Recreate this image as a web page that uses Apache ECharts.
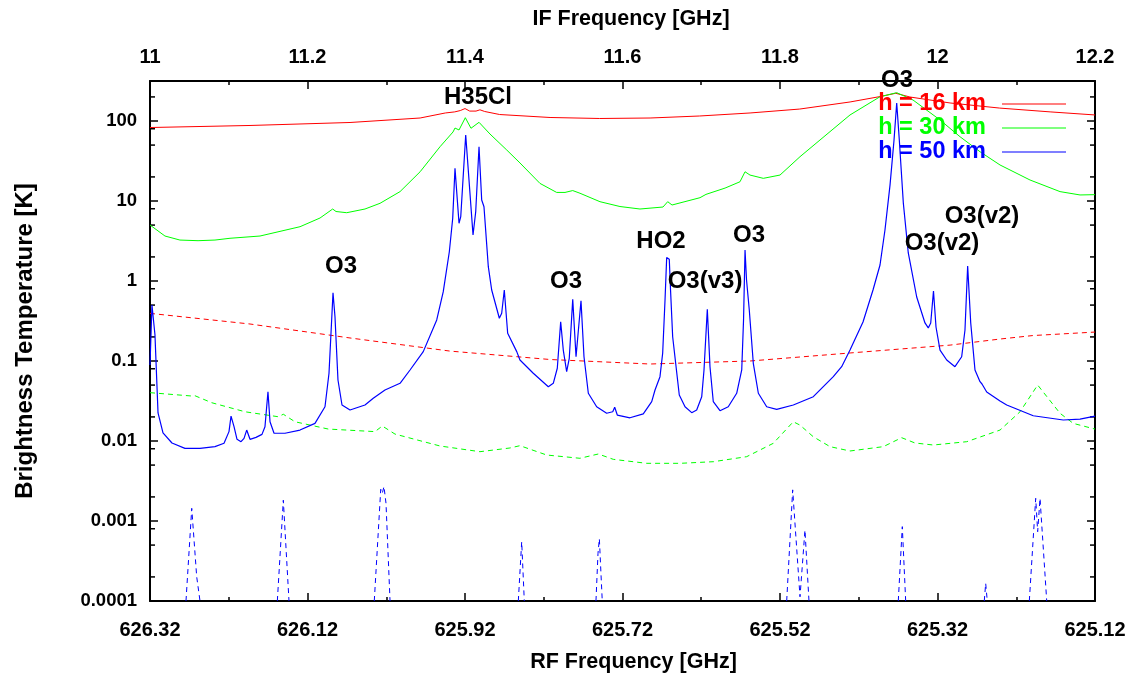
<!DOCTYPE html>
<html>
<head>
<meta charset="utf-8">
<title>Brightness Temperature vs Frequency</title>
<script src="https://cdn.jsdelivr.net/npm/echarts@6/dist/echarts.min.js"></script>
<style>
  html, body { margin: 0; padding: 0; background: #fff; }
  #chart { width: 1134px; height: 674px; }
</style>
</head>
<body>
<div id="chart"></div>
<script>
// Frequencies are IF in GHz; RF = 637.32 - IF. Temperatures in K.
const LO_SUM = 637.32;

// h = 16 km, solid
const h16Solid = [
  [11.000, 82.9], [11.127, 87.9], [11.254, 95.8], [11.343, 109], [11.375, 126],
  [11.387, 130], [11.394, 135], [11.400, 143], [11.406, 133], [11.414, 133],
  [11.419, 138], [11.425, 131.5], [11.444, 120.5], [11.508, 110.6], [11.571, 107.5],
  [11.635, 109], [11.698, 115.5], [11.762, 126], [11.825, 141], [11.889, 173],
  [11.927, 202], [11.947, 222], [11.965, 199.5], [12.016, 168], [12.079, 145],
  [12.143, 130], [12.200, 119]
];

// h = 30 km, solid
const h30Solid = [
  [11.000, 5.01], [11.0025, 4.73], [11.019, 3.65], [11.038, 3.25], [11.061, 3.19],
  [11.0825, 3.25], [11.1016, 3.42], [11.1041, 3.52], [11.1397, 3.65], [11.1905, 4.77],
  [11.2159, 6.13], [11.232, 7.94], [11.2362, 7.39], [11.2498, 7.14], [11.273, 7.94],
  [11.2921, 9.36], [11.3175, 13.1], [11.343, 23.2], [11.3683, 47.7], [11.3848, 72.9],
  [11.3873, 81.7], [11.3924, 77.2], [11.4004, 110], [11.4076, 81.1], [11.4178, 96.3],
  [11.4317, 68.8], [11.453, 43.4], [11.4698, 29.9], [11.4952, 16.6], [11.5164, 12.8],
  [11.527, 12.8], [11.5368, 13.5], [11.546, 12.5], [11.5714, 9.8], [11.5968, 8.53],
  [11.6222, 7.94], [11.6514, 8.41], [11.6574, 9.8], [11.6629, 8.91], [11.6984, 11.0],
  [11.706, 12.1], [11.7302, 14.5], [11.7492, 17.4], [11.7556, 23.2], [11.7619, 21.1],
  [11.7788, 19.2], [11.800, 21.1], [11.8254, 35.8], [11.8508, 57.9], [11.8889, 119],
  [11.927, 201], [11.9482, 226], [11.9689, 183], [12.0032, 103], [12.0286, 63.6],
  [12.054, 41.3], [12.0794, 28.2], [12.1175, 18.3], [12.1556, 13.1], [12.181, 11.9],
  [12.200, 12.0]
];

// h = 50 km, solid
const h50Solid = [
  [11.0000, 0.0891], [11.0025, 0.501], [11.0063, 0.213], [11.0102, 0.0224], [11.0165, 0.0126],
  [11.0279, 0.00944], [11.0444, 0.0081], [11.0635, 0.0081], [11.0825, 0.0085], [11.0940, 0.00936],
  [11.1003, 0.0131], [11.1029, 0.0205], [11.1067, 0.0151], [11.1105, 0.0105], [11.1156, 0.0098],
  [11.1194, 0.0108], [11.1228, 0.0137], [11.1270, 0.0105], [11.1346, 0.0111], [11.1422, 0.0121],
  [11.1460, 0.0151], [11.1498, 0.0413], [11.1524, 0.0174], [11.1575, 0.0125], [11.1714, 0.0125],
  [11.1905, 0.0137], [11.2095, 0.0166], [11.2222, 0.0268], [11.2273, 0.0702], [11.2311, 0.395],
  [11.2324, 0.714], [11.2349, 0.358], [11.2387, 0.0579], [11.2438, 0.0282], [11.2540, 0.0244],
  [11.2730, 0.0282], [11.2835, 0.0342], [11.2984, 0.0434], [11.3175, 0.0526], [11.3302, 0.0772],
  [11.3470, 0.131], [11.3641, 0.326],
  [11.3724, 0.735], [11.3801, 2.32], [11.3844, 6.08], [11.3873, 25.6], [11.3924, 5.26],
  [11.3946, 6.37], [11.4009, 66.8], [11.4102, 3.76], [11.4136, 7.35], [11.4178, 47.7],
  [11.4212, 10.3], [11.4241, 8.49], [11.4296, 1.51], [11.4339, 0.772], [11.4436, 0.342],
  [11.4466, 0.395], [11.4499, 0.772], [11.4542, 0.222], [11.4657, 0.131], [11.4698, 0.103],
  [11.4867, 0.0702], [11.5058, 0.0477], [11.5121, 0.0526], [11.5172, 0.0811], [11.5215, 0.31],
  [11.5248, 0.137], [11.5291, 0.0735], [11.5324, 0.108], [11.5368, 0.59], [11.5410, 0.113],
  [11.5431, 0.108], [11.5473, 0.567], [11.5511, 0.113], [11.5566, 0.0395], [11.5672, 0.0268],
  [11.5799, 0.0222], [11.5876, 0.0232], [11.5901, 0.0264], [11.5934, 0.0211], [11.6095, 0.0195],
  [11.6264, 0.0218], [11.6371, 0.031], [11.6413, 0.0434], [11.6476, 0.0637], [11.6510, 0.125],
  [11.6540, 0.579], [11.6561, 1.96], [11.6594, 1.87], [11.6610, 0.772], [11.6637, 0.201],
  [11.6721, 0.0376], [11.6794, 0.0268], [11.6879, 0.0226], [11.6942, 0.0244], [11.7006, 0.0358],
  [11.7035, 0.0772], [11.7077, 0.443], [11.7111, 0.0849], [11.7153, 0.031], [11.7238, 0.0239],
  [11.7343, 0.0268], [11.7450, 0.0395], [11.7514, 0.0772], [11.7537, 0.326], [11.7556, 2.44],
  [11.7575, 1.03], [11.7610, 0.434], [11.7661, 0.0936], [11.7725, 0.0395], [11.7831, 0.0268],
  [11.7958, 0.0249], [11.8169, 0.0282], [11.8423, 0.0358], [11.8677, 0.0637], [11.8783, 0.0849],
  [11.8889, 0.137], [11.9054, 0.307], [11.9181, 0.772], [11.9270, 1.585], [11.9333, 4.34],
  [11.9397, 15.8], [11.9448, 57.9], [11.9482, 168], [11.9515, 57.9], [11.9566, 9.44],
  [11.9629, 2.24], [11.9736, 0.631], [11.9841, 0.299], [11.9883, 0.259], [11.9914, 0.299],
  [11.9949, 0.75], [11.9981, 0.266], [12.0032, 0.137], [12.0117, 0.103], [12.0222, 0.0849],
  [12.0307, 0.113], [12.0349, 0.244], [12.0383, 1.54], [12.0422, 0.299], [12.0476, 0.0772],
  [12.0540, 0.0551], [12.0565, 0.0516], [12.0625, 0.041], [12.0794, 0.0316], [12.0879, 0.0282],
  [12.1216, 0.0207], [12.1597, 0.0183], [12.1810, 0.0188], [12.2000, 0.0205]
];

// h = 16 km, dashed
const h16Dashed = [
  [11.000, 0.394], [11.127, 0.29], [11.254, 0.194], [11.381, 0.133], [11.508, 0.1044],
  [11.635, 0.0917], [11.762, 0.1], [11.889, 0.126], [12.016, 0.158], [12.079, 0.188],
  [12.121, 0.208], [12.200, 0.23]
];

// h = 30 km, dashed
const h30Dashed = [
  [11.000, 0.0402], [11.053, 0.0365], [11.0571, 0.0368], [11.0784, 0.0301], [11.1206, 0.0232],
  [11.1629, 0.0201], [11.1693, 0.0216], [11.1841, 0.0174], [11.2264, 0.0141], [11.2857, 0.0131],
  [11.295, 0.0154], [11.3111, 0.0122], [11.3683, 0.00866], [11.419, 0.00735], [11.4571, 0.00818],
  [11.4698, 0.00874], [11.5037, 0.00668], [11.546, 0.00608], [11.5693, 0.00688], [11.5883, 0.0059],
  [11.6307, 0.00526], [11.673, 0.00526], [11.7153, 0.00551], [11.7577, 0.00637], [11.7915, 0.00936],
  [11.8169, 0.0174], [11.8254, 0.0158], [11.8423, 0.0113], [11.8635, 0.0085], [11.8889, 0.0075],
  [11.9312, 0.0085], [11.9545, 0.011], [11.9714, 0.00944], [11.9947, 0.00891], [12.0371, 0.0098],
  [12.0794, 0.0137], [12.1048, 0.0232], [12.1272, 0.0501], [12.1556, 0.0222], [12.1724, 0.0166],
  [12.200, 0.0141]
];

// h = 50 km, dashed: isolated spikes rising above the axis floor
const h50DashedSpikes = [
  [[11.0457, 1e-4], [11.053, 0.00144], [11.0593, 0.000201], [11.0613, 0.000201], [11.0635, 1e-4]],
  [[11.1617, 1e-4], [11.1693, 0.00182], [11.1765, 1e-4]],
  [[11.2848, 1e-4], [11.293, 0.00249], [11.295, 0.00222], [11.2971, 0.0027], [11.2997, 0.00166], [11.3048, 1e-4]],
  [[11.4677, 1e-4], [11.472, 0.00055], [11.4753, 1e-4]],
  [[11.5663, 1e-4], [11.5689, 0.000395], [11.5706, 0.0006], [11.5743, 1e-4]],
  [[11.8085, 1e-4], [11.8161, 0.00245], [11.8254, 0.000113], [11.8317, 0.00077], [11.8368, 1e-4]],
  [[11.9502, 1e-4], [11.9553, 0.00085], [11.9596, 1e-4]],
  [[12.0594, 1e-4], [12.0612, 0.000166], [12.0632, 1e-4]],
  [[12.1166, 1e-4], [12.1247, 0.00192], [12.1272, 0.000735], [12.1302, 0.00192], [12.1387, 1e-4]]
];

// Line identifications
const lineNames = ['H35Cl', 'O3', 'O3', 'HO2', 'O3(v3)', 'O3', 'O3', 'O3(v2)', 'O3(v2)'];
const lineLabelPos = [
  [11.4165, 199.5], [11.2425, 1.54], [11.5283, 1.0], [11.6489, 3.16], [11.7048, 1.0],
  [11.7606, 3.76], [11.9486, 325], [12.0057, 2.985], [12.0565, 6.49]
];

// Axis ticks
const tempTicks = [0.0001, 0.001, 0.01, 0.1, 1, 10, 100];
const tempMinorFactors = [2, 5, 8];

const FONT = 'Liberation Sans';
const TEMP_MIN = 1e-4;
const TEMP_MAX = Math.pow(10, 2.5);
const IF_MIN = 11;
const IF_MAX = 12.2;

const tempMinorTicks = [];
tempTicks.forEach(t => tempMinorFactors.forEach(f => {
  const v = t * f;
  if (v < TEMP_MAX) tempMinorTicks.push(v);
}));

const h50Dashed = [];
h50DashedSpikes.forEach((spike, i) => {
  if (i > 0) h50Dashed.push([(spike[0][0] + h50DashedSpikes[i - 1].slice(-1)[0][0]) / 2, null]);
  spike.forEach(p => h50Dashed.push(p));
});

function textStyle(size, extra) {
  return Object.assign({ fontFamily: FONT, fontWeight: 'bold', fontSize: size, color: '#000' }, extra || {});
}

function tempLabel(v) {
  if (v >= 1) return String(Math.round(v));
  const d = Math.round(-Math.log10(v));
  return v.toFixed(d);
}

const xCommon = {
  type: 'value', min: IF_MIN, max: IF_MAX, interval: 0.2,
  axisLine: { show: true, lineStyle: { color: '#000', width: 2 } },
  axisTick: { show: true, inside: true, length: 8, lineStyle: { color: '#000', width: 1.5 } },
  minorTick: { show: true, splitNumber: 2, length: 4, lineStyle: { color: '#000', width: 1.5 } },
  splitLine: { show: false },
  nameLocation: 'middle'
};

const yCommon = {
  type: 'log', logBase: 10, min: TEMP_MIN, max: TEMP_MAX,
  splitLine: { show: false }
};

// Minor ticks at 2, 5 and 8 of each decade, on both vertical borders
function renderMinorTick(params, api) {
  const v = api.value(1);
  const l = api.coord([IF_MIN, v]);
  const r = api.coord([IF_MAX, v]);
  const style = { stroke: '#000', lineWidth: 1.5 };
  return {
    type: 'group',
    children: [
      { type: 'line', shape: { x1: l[0], y1: l[1], x2: l[0] + 5, y2: l[1] }, style },
      { type: 'line', shape: { x1: r[0] - 5, y1: r[1], x2: r[0], y2: r[1] }, style }
    ]
  };
}

const chart = echarts.init(document.getElementById('chart'), null, { renderer: 'canvas' });

chart.setOption({
  animation: false,
  backgroundColor: '#fff',
  grid: { left: 150, right: 39, top: 81, bottom: 73, containLabel: false, outerBoundsMode: 'none' },
  xAxis: [
    Object.assign({}, xCommon, {
      position: 'bottom',
      name: 'RF Frequency [GHz]', nameGap: 50,
      nameTextStyle: textStyle(21.5, { padding: [0, 0, 0, 22] }),
      axisLabel: textStyle(20, {
        margin: 19,
        formatter: v => (LO_SUM - v).toFixed(2)
      })
    }),
    Object.assign({}, xCommon, {
      position: 'top',
      name: 'IF Frequency [GHz]', nameGap: 51,
      nameTextStyle: textStyle(21.5, { padding: [0, 0, 0, 17] }),
      axisLabel: textStyle(20, {
        margin: 14,
        formatter: v => String(+v.toFixed(1))
      })
    })
  ],
  yAxis: [
    Object.assign({}, yCommon, {
      position: 'left',
      name: 'Brightness Temperature [K]', nameLocation: 'middle', nameGap: 113,
      nameTextStyle: textStyle(24),
      axisLine: { show: true, lineStyle: { color: '#000', width: 2 } },
      axisTick: { show: true, inside: true, length: 8, customValues: tempTicks, lineStyle: { color: '#000', width: 1.5 } },
      axisLabel: textStyle(18.5, { margin: 13, customValues: tempTicks, formatter: tempLabel })
    }),
    Object.assign({}, yCommon, {
      position: 'right',
      axisLine: { show: true, lineStyle: { color: '#000', width: 2 } },
      axisTick: { show: true, inside: true, length: 8, customValues: tempTicks, lineStyle: { color: '#000', width: 1.5 } },
      axisLabel: { show: false }
    })
  ],
  legend: {
    orient: 'vertical', right: 63, top: 87, align: 'right',
    icon: 'rect', itemWidth: 64, itemHeight: 1, itemGap: 0, selectedMode: false,
    textStyle: { fontFamily: FONT, fontWeight: 'bold', fontSize: 23.5, lineHeight: 24, padding: [0, 11, 0, 0] },
    data: [
      { name: 'h = 16 km', textStyle: { color: '#ff0000' } },
      { name: 'h = 30 km', textStyle: { color: '#00ff00' } },
      { name: 'h = 50 km', textStyle: { color: '#0000ff' } }
    ]
  },
  series: [
    { name: 'minor ticks', type: 'custom', xAxisIndex: 1, yAxisIndex: 0, silent: true, clip: false,
      renderItem: renderMinorTick, data: tempMinorTicks.map(v => [IF_MIN, v]) },
    { name: 'h = 16 km, dashed', type: 'line', xAxisIndex: 1, yAxisIndex: 0, data: h16Dashed,
      symbol: 'none', lineStyle: { color: '#ff0000', width: 1, type: [5, 4] }, itemStyle: { color: '#ff0000' } },
    { name: 'h = 30 km, dashed', type: 'line', xAxisIndex: 1, yAxisIndex: 0, data: h30Dashed,
      symbol: 'none', lineStyle: { color: '#00ff00', width: 1, type: [5, 4] }, itemStyle: { color: '#00ff00' } },
    { name: 'h = 50 km, dashed', type: 'line', xAxisIndex: 1, yAxisIndex: 0, data: h50Dashed,
      symbol: 'none', connectNulls: false, lineStyle: { color: '#0000ff', width: 1, type: [5, 4] }, itemStyle: { color: '#0000ff' } },
    { name: 'h = 16 km', type: 'line', xAxisIndex: 1, yAxisIndex: 0, data: h16Solid,
      symbol: 'none', lineStyle: { color: '#ff0000', width: 1 }, itemStyle: { color: '#ff0000' } },
    { name: 'h = 30 km', type: 'line', xAxisIndex: 1, yAxisIndex: 0, data: h30Solid,
      symbol: 'none', lineStyle: { color: '#00ff00', width: 1 }, itemStyle: { color: '#00ff00' } },
    { name: 'h = 50 km', type: 'line', xAxisIndex: 1, yAxisIndex: 0, data: h50Solid,
      symbol: 'none', lineStyle: { color: '#0000ff', width: 1.2 }, itemStyle: { color: '#0000ff' } },
    { name: 'lines', type: 'scatter', xAxisIndex: 1, yAxisIndex: 0, clip: false, z: 5,
      symbolSize: 0, silent: true, itemStyle: { opacity: 1 },
      label: textStyle(24, { show: true, position: 'inside', formatter: '{b}', textBorderWidth: 0, opacity: 1 }),
      data: lineNames.map((n, i) => ({ name: n, value: lineLabelPos[i] })) }
  ]
});
</script>
</body>
</html>
